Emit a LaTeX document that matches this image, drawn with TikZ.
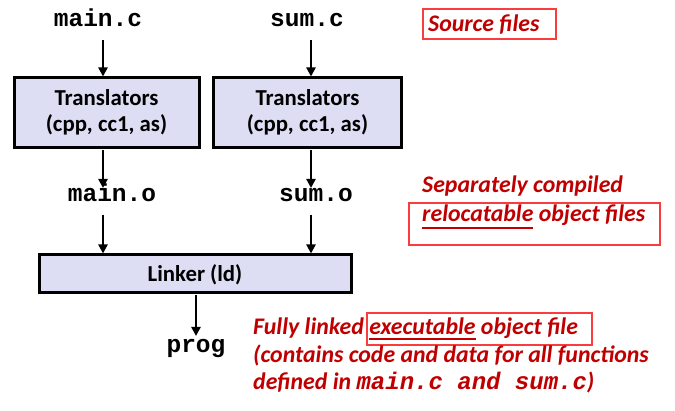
\documentclass[tikz,border=0pt]{standalone}
\usepackage{fontspec}
\setmainfont{Carlito}
\newfontfamily\cmono{Liberation Mono}
\usetikzlibrary{arrows.meta}
\definecolor{boxfill}{RGB}{221,221,243}
\definecolor{darkred}{RGB}{192,0,0}
\definecolor{brightred}{RGB}{250,60,60}
\begin{document}
\begin{tikzpicture}[x=1pt,y=-1pt,
 arr/.style={line width=2.5pt,-{Triangle[length=9pt,width=9pt]}},
 procbox/.style={draw,line width=3pt,fill=boxfill,inner sep=0},
 mono/.style={font=\cmono\bfseries\fontsize{24.5}{24}\selectfont,inner sep=0,anchor=base},
 lbl/.style={font=\bfseries\fontsize{22.8}{23}\selectfont,inner sep=0,anchor=base},
 note/.style={font=\bfseries\itshape\fontsize{23.8}{24}\selectfont,text=darkred,inner sep=0,anchor=base west},
 redbox/.style={draw=brightred,line width=2.5pt,inner sep=0},
 uline/.style={draw=darkred,line width=2pt}]
\useasboundingbox (0,0) rectangle (675,411);
% boxes
\node[procbox,minimum width=185pt,minimum height=70pt] (t1) at (106.5,113) {};
\node[procbox,minimum width=188pt,minimum height=70pt] (t2) at (307.5,113) {};
\node[procbox,minimum width=312pt,minimum height=38pt] (lk) at (195,274) {};
\node[lbl] (t1a) at (106.5,106) {Translators};
\node[lbl] (t1b) at (106.5,132) {(cpp, cc1, as)};
\node[lbl] (t2a) at (307.5,106) {Translators};
\node[lbl] (t2b) at (307.5,132) {(cpp, cc1, as)};
\node[lbl] (lkt) at (195,282) {Linker (ld)};
% file labels
\node[mono] (mc) at (98,27) {main.c};
\node[mono] (sc) at (307,27) {sum.c};
\node[mono] (mo) at (112,202) {main.o};
\node[mono] (so) at (316,202) {sum.o};
\node[mono] (pg) at (196,353) {prog};
% connector ends
\coordinate (a1) at (103,40);
\coordinate (a2) at (311,40);
\coordinate (c1) at (103,150);
\coordinate (c2) at (311,150);
\coordinate (d1) at (103,188);
\coordinate (d2) at (311,188);
\coordinate (e1) at (103,215);
\coordinate (e2) at (311,215);
\coordinate (f1) at (196,295);
\coordinate (g1) at (196,336);
\draw[arr] (a1) -- (a1 |- t1.north);
\draw[arr] (a2) -- (a2 |- t2.north);
\draw[arr] (c1) -- (d1);
\draw[arr] (c2) -- (d2);
\draw[arr] (e1) -- (e1 |- lk.north);
\draw[arr] (e2) -- (e2 |- lk.north);
\draw[arr] (f1) -- (g1);
% notes
\node[redbox,minimum width=133pt,minimum height=30pt] (rb1) at (489.5,24) {};
\node[redbox,minimum width=251pt,minimum height=42pt] (rb2) at (534.5,224) {};
\node[redbox,minimum width=225pt,minimum height=32pt] (rb3) at (479.5,329) {};
\node[note] (n1) at (428,32) {Source files};
\node[note] (n2) at (422,193) {Separately compiled};
\node[note] (n3) at (422,222) {relocatable object files};
\node[note] (n4) at (253,335) {Fully linked executable object file};
\node[note] (n5) at (253,363) {(contains code and data for all functions};
\node[note] (n6) at (253,390) {defined in {\cmono\bfseries\itshape\fontsize{24}{24}\selectfont main.c and sum.c})};
\coordinate (u1a) at (422,228);
\coordinate (u1b) at (533,228);
\coordinate (u2a) at (369,339);
\coordinate (u2b) at (476,339);
\draw[uline] (u1a) -- (u1b);
\draw[uline] (u2a) -- (u2b);
\end{tikzpicture}
\end{document}
